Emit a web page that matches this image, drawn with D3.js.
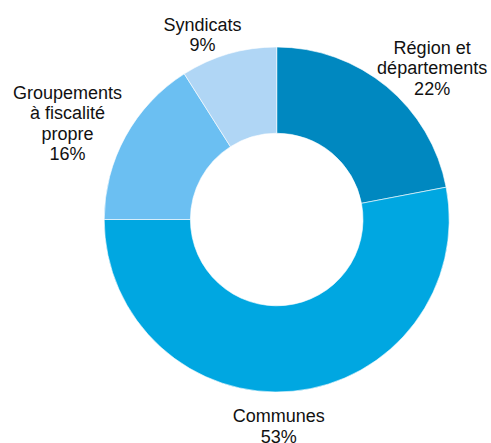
<!DOCTYPE html>
<html>
<head>
<meta charset="utf-8">
<script src="https://cdn.jsdelivr.net/npm/d3@7"></script>
<style>
  html, body { margin: 0; padding: 0; background: #ffffff; }
  svg { display: block; }
  text { font-family: "Liberation Sans", Arial, sans-serif; font-size: 18px; fill: #111111; }
</style>
</head>
<body>
<svg id="chart" width="491" height="443"></svg>
<script>
// ---- Data ----
const categories = ["Région et départements", "Communes", "Groupements à fiscalité propre", "Syndicats"];
const labelLines = [["Région et", "départements"], ["Communes"], ["Groupements", "à fiscalité", "propre"], ["Syndicats"]];
const shares = [22, 53, 16, 9];
const colors = ["#0088c0", "#00a7e1", "#6bbff2", "#b0d6f5"];

// ---- Layout ----
const W = 491, H = 443;
const cx = 276.7, cy = 219.5;
const outerR = 172.5, innerR = 86.3;
const labelR = outerR + 40;
const labelNudge = [[20, 12], [-18, -5], [-23, 6], [-15, 19]];
const lineH = 20.5;

const svg = d3.select("#chart");
const g = svg.append("g").attr("transform", `translate(${cx},${cy})`);

const data = categories.map((c, i) => ({ cat: c, value: shares[i], i }));
const pie = d3.pie().value(d => d.value).sort(null).startAngle(0).endAngle(2 * Math.PI);
const arcs = pie(data);

const arc = d3.arc().innerRadius(innerR).outerRadius(outerR);
const labelArc = d3.arc().innerRadius(labelR).outerRadius(labelR);

g.selectAll("path.slice")
  .data(arcs)
  .join("path")
  .attr("class", "slice")
  .attr("d", arc)
  .attr("fill", d => colors[d.data.i])
  .attr("stroke", "#ffffff")
  .attr("stroke-width", 0.6);

const labels = g.selectAll("text.label")
  .data(arcs)
  .join("text")
  .attr("class", "label")
  .attr("text-anchor", "middle")
  .each(function(d) {
    const [x0, y0] = labelArc.centroid(d);
    const nud = labelNudge[d.data.i];
    const x = x0 + nud[0], y = y0 + nud[1];
    const lines = labelLines[d.data.i].concat([d.data.value + "%"]);
    const n = lines.length;
    const first = y - (n - 1) * lineH / 2 + 6.3;
    const t = d3.select(this);
    lines.forEach((ln, k) => {
      t.append("tspan").attr("x", x).attr("y", first + k * lineH).text(ln);
    });
  });
</script>
</body>
</html>
